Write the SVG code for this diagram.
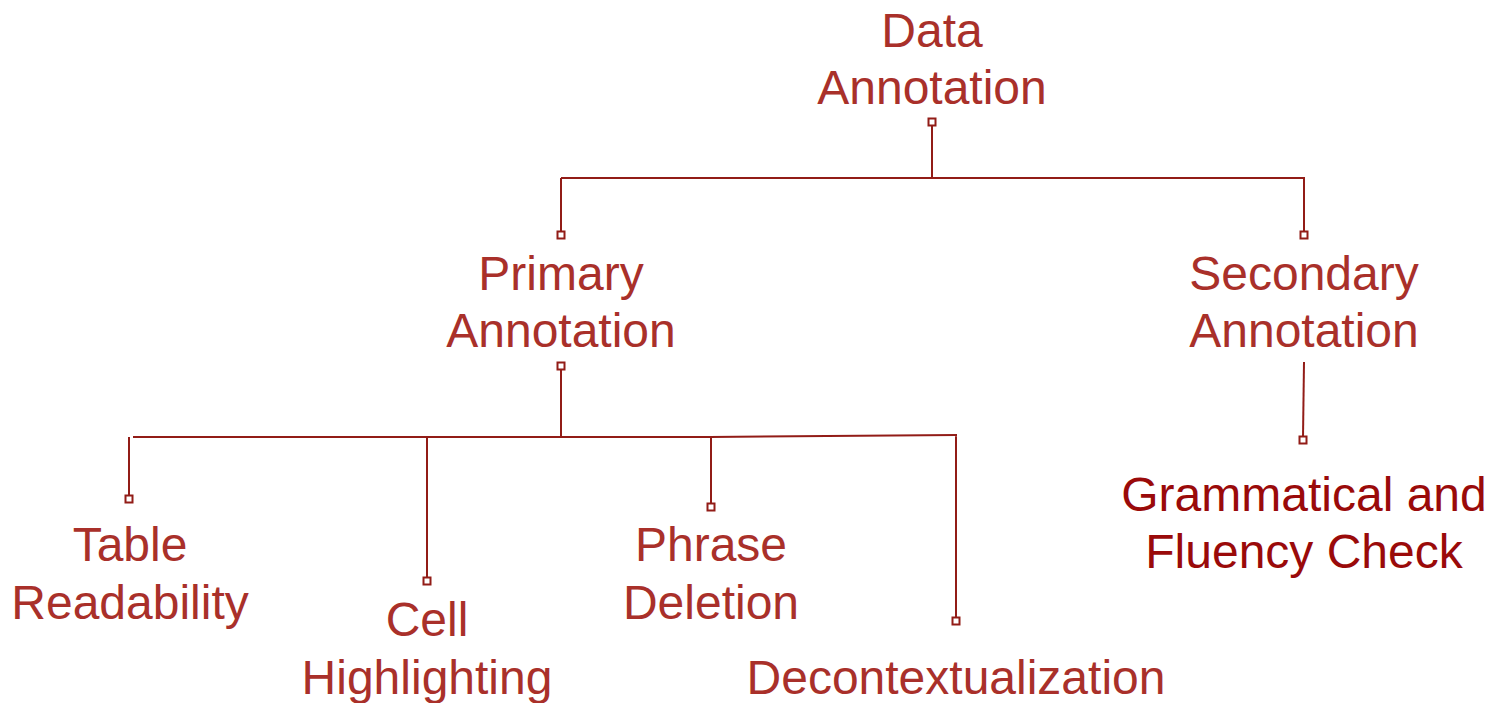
<svg xmlns="http://www.w3.org/2000/svg" width="1490" height="703" viewBox="0 0 1490 703">
<style>
text{font-family:"Liberation Sans",Arial,sans-serif;font-size:48px;fill:#A9302A;text-anchor:middle}
.dk{fill:#9A0A0A}
.ln{fill:none;stroke:#921C17;stroke-width:2}
.sq{fill:#fff;stroke:#921C17;stroke-width:2}
</style>
<rect width="1490" height="703" fill="#fff"/>
<g id="connectors">
<path class="ln" d="M932,126 V178 M561,178 H1305 M561,178 V232 M1304,178 V232"/>
<path class="ln" d="M561,369 V437 M133,437 L710,437 L957,435 M129,437 V496 M427,437 V578 M711,437 V504 M956,436 V618"/>
<path class="ln" d="M1304,362 L1303,437"/>
<rect class="sq" x="928.5" y="118.5" width="7" height="7"/>
<rect class="sq" x="557.5" y="231.5" width="7" height="7"/>
<rect class="sq" x="1300.5" y="231.5" width="7" height="7"/>
<rect class="sq" x="557.5" y="362.5" width="7" height="7"/>
<rect class="sq" x="125.5" y="495.5" width="7" height="7"/>
<rect class="sq" x="423.5" y="577.5" width="7" height="7"/>
<rect class="sq" x="707.5" y="503.5" width="7" height="7"/>
<rect class="sq" x="952.5" y="617.5" width="7" height="7"/>
<rect class="sq" x="1299.5" y="436.5" width="7" height="7"/>
</g>
<g id="data-annotation"><text x="932" y="47">Data</text><text x="932" y="104">Annotation</text></g>
<g id="primary-annotation"><text x="561" y="290">Primary</text><text x="561" y="347">Annotation</text></g>
<g id="secondary-annotation"><text x="1304" y="290">Secondary</text><text x="1304" y="347">Annotation</text></g>
<g id="table-readability"><text x="130" y="561">Table</text><text x="130" y="619">Readability</text></g>
<g id="cell-highlighting"><text x="427" y="636">Cell</text><text x="427" y="694">Highlighting</text></g>
<g id="phrase-deletion"><text x="711" y="561">Phrase</text><text x="711" y="619">Deletion</text></g>
<g id="decontextualization"><text x="956" y="694">Decontextualization</text></g>
<g id="grammatical-fluency"><text class="dk" x="1304" y="511">Grammatical and</text><text class="dk" x="1304" y="568">Fluency Check</text></g>
</svg>
